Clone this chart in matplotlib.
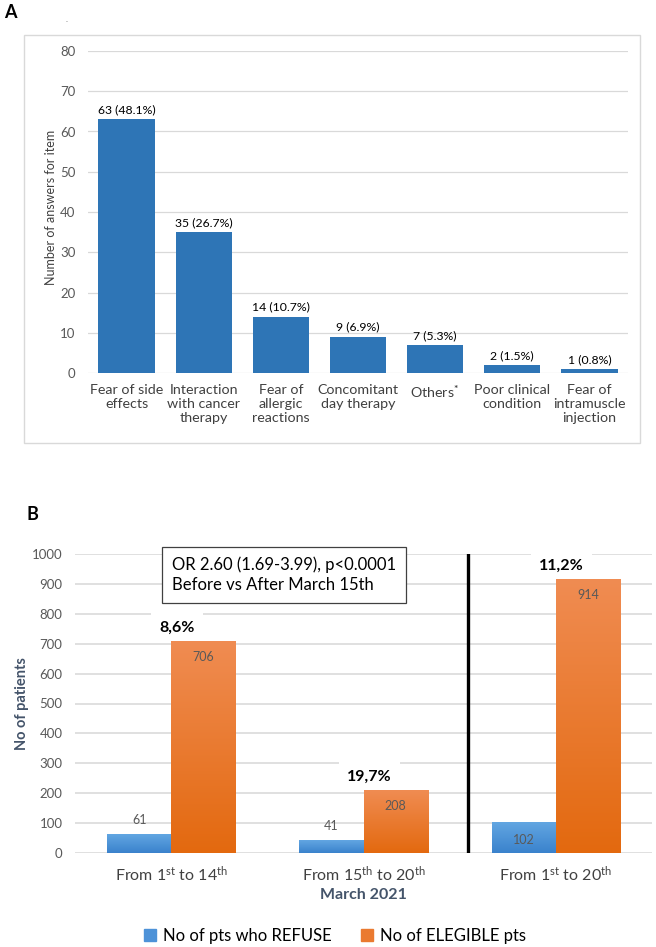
import numpy as np
import matplotlib.pyplot as plt
from matplotlib.colors import LinearSegmentedColormap
from matplotlib.patches import Patch, Rectangle

plt.rcParams['font.family'] = ['Lato', 'DejaVu Sans']
plt.rcParams['mathtext.fontset'] = 'custom'
plt.rcParams['mathtext.rm'] = 'Lato'
plt.rcParams['mathtext.it'] = 'Lato:italic'
plt.rcParams['mathtext.bf'] = 'Lato:bold'

# panel A data
reasons = ['Fear of side\neffects', 'Interaction\nwith cancer\ntherapy', 'Fear of\nallergic\nreactions',
           'Concomitant\nday therapy', 'Others$^{\\mathbf{*}}$', 'Poor clinical\ncondition', 'Fear of\nintramuscle\ninjection']
answers = [63, 35, 14, 9, 7, 2, 1]
answer_pct = ['48.1%', '26.7%', '10.7%', '6.9%', '5.3%', '1.5%', '0.8%']

# panel B data
periods = [r'From 1$^{\rm st}$ to 14$^{\rm th}$', r'From 15$^{\rm th}$ to 20$^{\rm th}$', r'From 1$^{\rm st}$ to 20$^{\rm th}$']
refused = [61, 41, 102]
eligible = [706, 208, 914]
refuse_rate = ['8,6%', '19,7%', '11,2%']

W, H = 656, 947
fig = plt.figure(figsize=(W / 100, H / 100), dpi=100)


def fx(px):
    return px / W


def fy(py):
    return 1 - py / H


# ---------- panel A ----------
fig.patches.append(Rectangle((fx(24), fy(443)), fx(616), 408 / H, transform=fig.transFigure,
                             fill=False, edgecolor='#d9d9d9', linewidth=1.0))
fig.text(fx(4), fy(4), 'A', fontsize=13, fontweight='bold', va='top', ha='left')
fig.text(fx(67), fy(23), '.', fontsize=6, color='#808080', ha='center', va='bottom')

axA = fig.add_axes([fx(88), fy(373), fx(540), 322 / H])
xa = np.arange(len(reasons))
barsA = axA.bar(xa, answers, width=0.73, color='#2e75b6', zorder=3)
for b, v, p in zip(barsA, answers, answer_pct):
    axA.text(b.get_x() + b.get_width() / 2, v + 1.0, f'{v} ({p})', ha='center', va='bottom',
             fontsize=8.8, color='#000000')
axA.set_xlim(-0.5, len(reasons) - 0.5)
axA.set_ylim(0, 80)
axA.set_yticks(range(0, 81, 10))
axA.set_xticks(xa)
axA.set_xticklabels(reasons, fontsize=10.3, color='#404040', linespacing=1.2)
axA.tick_params(axis='y', labelsize=9.5, colors='#595959', length=0, pad=9)
axA.tick_params(axis='x', length=0, pad=8)
axA.yaxis.grid(True, color='#d9d9d9', linewidth=0.9, zorder=0)
axA.set_axisbelow(True)
for s in axA.spines.values():
    s.set_visible(False)
fig.text(fx(51), fy(207), 'Number of answers for item', rotation=90, fontsize=9,
         color='#404040', ha='center', va='center')

# ---------- panel B ----------
fig.text(fx(27), fy(506), 'B', fontsize=13, fontweight='bold', va='top', ha='left')
axB = fig.add_axes([fx(75), fy(853), fx(577), 299 / H])
xb = np.arange(len(periods))
bw = 0.333
barsR = axB.bar(xb - bw / 2, refused, width=bw, color='none', zorder=3)
barsE = axB.bar(xb + bw / 2, eligible, width=bw, color='none', zorder=3)

grad = np.linspace(0, 1, 256).reshape(-1, 1)
blue_cmap = LinearSegmentedColormap.from_list('b', ['#3a82cc', '#62a6e2'])
orange_cmap = LinearSegmentedColormap.from_list('o', ['#e3690f', '#f08c52'])
for bars, cmap in [(barsR, blue_cmap), (barsE, orange_cmap)]:
    for b in bars:
        x0, w, h = b.get_x(), b.get_width(), b.get_height()
        axB.imshow(grad, extent=[x0, x0 + w, 0, h], origin='lower', aspect='auto',
                   cmap=cmap, zorder=3)

for b, v in zip(barsR, refused):
    cx = b.get_x() + b.get_width() / 2
    if v > 90:
        axB.text(cx, v - 58, str(v), ha='center', va='center', fontsize=9, color='#595959', zorder=5)
    else:
        axB.text(cx, v + 48, str(v), ha='center', va='center', fontsize=9, color='#595959', zorder=5)
for b, v in zip(barsE, eligible):
    cx = b.get_x() + b.get_width() / 2
    axB.text(cx, v - 52, str(v), ha='center', va='center', fontsize=9, color='#595959', zorder=5)
for x, v, r in zip(xb, eligible, refuse_rate):
    axB.text(x + 0.03, v + 48, r, ha='center', va='center', fontsize=11.5, fontweight='bold',
             color='#000000', zorder=2,
             bbox=dict(boxstyle='square,pad=0.5', facecolor='white', edgecolor='none'))

axB.plot([1.545, 1.545], [0, 995], color='black', linewidth=2.4, zorder=6)
axB.text(-0.5 + (172 - 75) / 192.5, 1000 - (575 - 554) / 0.299,
         'OR 2.60 (1.69-3.99), p<0.0001\nBefore vs After March 15th',
         ha='left', va='center', fontsize=12, linespacing=1.3, zorder=7,
         bbox=dict(boxstyle='square,pad=0.6', facecolor='white', edgecolor='#404040', linewidth=0.9))

axB.set_xlim(-0.5, 2.5)
axB.set_ylim(0, 1000)
axB.set_yticks(range(0, 1001, 100))
axB.set_xticks(xb)
axB.set_xticklabels(periods, fontsize=11.5, color='#404040')
axB.tick_params(axis='y', labelsize=9.5, colors='#595959', length=0, pad=9)
axB.tick_params(axis='x', length=0, pad=8)
axB.yaxis.grid(True, color='#e0e0e0', linewidth=1.4, zorder=0)
axB.set_axisbelow(True)
for s in axB.spines.values():
    s.set_visible(False)
axB.text(1, -0.14, 'March 2021', transform=axB.get_xaxis_transform(), ha='center', va='center',
         fontsize=11.5, fontweight='bold', color='#44546a')
fig.text(fx(22), fy(704), 'No of patients', rotation=90, fontsize=10.5, fontweight='bold',
         color='#44546a', ha='center', va='center')

handles = [Patch(color='#4d92d8'), Patch(color='#ea7a30')]
fig.legend(handles, ['No of pts who REFUSE', 'No of ELEGIBLE pts'], loc='center',
           bbox_to_anchor=(fx(335), fy(936)), ncol=2, frameon=False, fontsize=12,
           handlelength=0.7, handleheight=0.7, handletextpad=0.4, columnspacing=1.8)

fig.savefig('out.png', dpi=100)
